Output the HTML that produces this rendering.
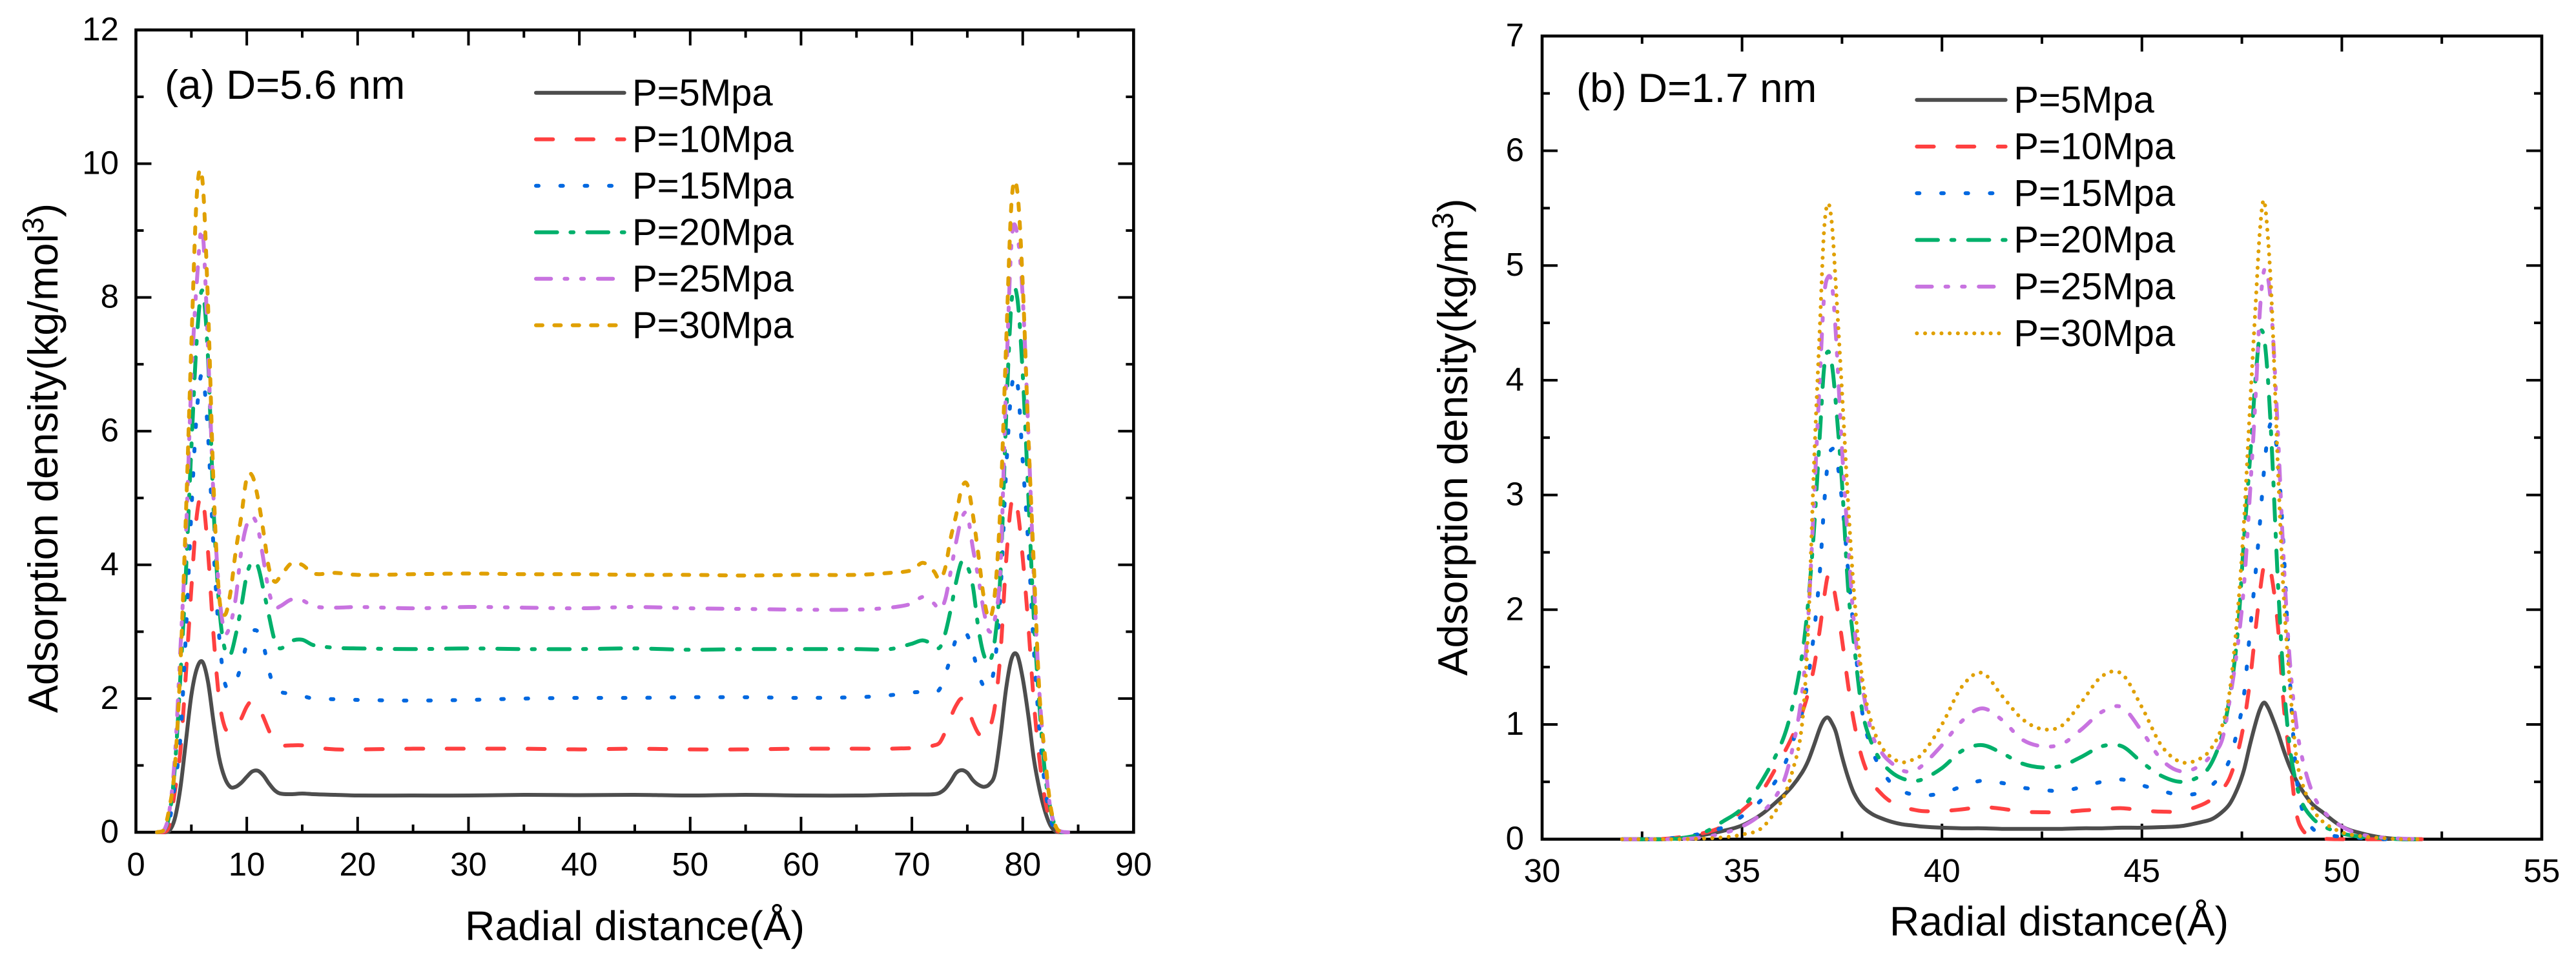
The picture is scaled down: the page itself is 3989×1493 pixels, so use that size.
<!DOCTYPE html>
<html lang="en">
<head>
<meta charset="utf-8">
<title>Adsorption density profiles</title>
<style>
html,body{margin:0;padding:0;background:#fff;}
svg{display:block;}
text{font-family:"Liberation Sans",Arial,sans-serif;fill:#000;}
</style>
</head>
<body>
<svg id="figure" xmlns="http://www.w3.org/2000/svg" width="3989" height="1493" viewBox="0 0 3989 1493">
  <rect x="0" y="0" width="3989" height="1493" fill="#ffffff"/>
  <g id="panel-a">
    <text x="255" y="153" font-size="63.5">(a) D=5.6 nm</text>
    <text x="983" y="1456" font-size="64.4" text-anchor="middle">Radial distance(Å)</text>
    <text transform="translate(89,709.5) rotate(-90)" font-size="64.5" text-anchor="middle">Adsorption density(kg/mol<tspan font-size="46" dy="-22">3</tspan><tspan dy="22">)</tspan></text>
  </g>
  <g id="panel-b">
    <text x="2441" y="158" font-size="63.5">(b) D=1.7 nm</text>
    <text x="3188.5" y="1449" font-size="64.3" text-anchor="middle">Radial distance(Å)</text>
    <text transform="translate(2272,677) rotate(-90)" font-size="64.5" text-anchor="middle">Adsorption density(kg/m<tspan font-size="46" dy="-22">3</tspan><tspan dy="22">)</tspan></text>
  </g>
</svg>
<script>
// ---- shared labels ----
const pressureLabels = ['P=5Mpa','P=10Mpa','P=15Mpa','P=20Mpa','P=25Mpa','P=30Mpa'];

// ---- panel (a) data ----
const aXTicks = [0,10,20,30,40,50,60,70,80,90];
const aXMinorTicks = [5,15,25,35,45,55,65,75,85];
const aYTicks = [0,2,4,6,8,10,12];
const aYMinorTicks = [1,3,5,7,9,11];
const aRadial = [1.9,2.5,3,3.5,4,4.5,5,5.5,6,6.5,7,7.5,8,8.5,9,9.5,10,10.5,11,11.5,12,12.5,13,14,15,16,18,20,25,30,35,40,45,50,55,60,65,68,70,71,72,72.5,73,73.5,74,74.5,75,75.5,76,76.5,77,77.5,78,78.5,79,79.5,80,80.5,81,81.5,82,82.5,83,83.5,84.1];
const aP5 = [0,0,.02,.2,.65,1.35,2.05,2.45,2.55,2.25,1.65,1.12,.82,.68,.68,.74,.83,.91,.92,.85,.73,.63,.58,.57,.58,.57,.56,.55,.55,.55,.56,.555,.56,.55,.56,.55,.55,.56,.565,.565,.57,.59,.65,.76,.89,.93,.89,.78,.71,.68,.72,.88,1.45,2.15,2.6,2.65,2.3,1.75,1.1,.65,.32,.1,.01,0,0];
const aP10 = [0,0,.1,.6,1.2,2.35,3.65,4.75,5.0,4.2,2.95,2.0,1.58,1.5,1.55,1.7,1.88,1.97,1.9,1.72,1.52,1.35,1.3,1.3,1.3,1.27,1.24,1.24,1.25,1.25,1.25,1.24,1.25,1.24,1.24,1.25,1.25,1.25,1.26,1.27,1.3,1.34,1.5,1.72,1.9,2.0,1.88,1.65,1.48,1.42,1.55,1.9,2.7,4.05,4.95,4.85,4.1,3.1,1.95,1.1,.5,.15,.03,0,0];
const aP15 = [0,.02,.15,.7,1.4,2.95,4.8,6.3,6.85,5.95,4.25,2.95,2.25,2.15,2.25,2.5,2.82,3.0,3.0,2.8,2.42,2.15,2.1,2.07,2.04,2.0,1.99,1.98,1.97,1.98,2.0,2.01,2.01,2.02,2.02,2.01,2.02,2.05,2.09,2.1,2.09,2.14,2.35,2.62,2.9,3.02,2.95,2.7,2.38,2.18,2.18,2.55,3.6,5.4,6.65,6.75,5.55,4.3,2.75,1.55,.7,.2,.04,0,0];
const aP20 = [0,.02,.25,.95,2.3,3.85,5.75,7.4,8.1,7.1,4.85,3.4,2.75,2.65,2.95,3.37,3.85,4.05,3.98,3.63,3.24,2.88,2.75,2.86,2.88,2.8,2.76,2.75,2.74,2.75,2.74,2.74,2.75,2.73,2.74,2.74,2.74,2.74,2.82,2.87,2.8,2.76,2.97,3.33,3.75,4.05,3.98,3.68,3.05,2.65,2.55,2.9,3.9,6.2,7.95,8.0,6.85,5.05,3.2,1.9,.9,.35,.06,0,0];
const aP25 = [0,.02,.3,1.1,2.7,4.4,6.75,8.25,9.0,7.25,5.0,3.6,3.0,3.1,3.5,4.2,4.6,4.72,4.55,4.08,3.6,3.37,3.38,3.48,3.47,3.38,3.36,3.37,3.35,3.37,3.36,3.35,3.37,3.35,3.34,3.33,3.33,3.36,3.42,3.52,3.42,3.33,3.48,3.9,4.35,4.7,4.75,4.25,3.8,3.3,3.0,3.2,4.0,6.7,8.85,8.95,8.0,6.0,3.8,2.1,1.1,.35,.08,.01,0];
const aP30 = [0,.03,.35,.95,2.45,4.7,7.3,9.55,9.75,7.9,5.2,3.55,3.25,3.56,4.2,4.72,5.3,5.33,5.0,4.5,3.95,3.75,3.82,4.02,4.0,3.87,3.88,3.85,3.86,3.87,3.86,3.86,3.85,3.85,3.84,3.85,3.85,3.88,3.92,4.03,3.9,3.78,3.95,4.4,4.75,5.15,5.2,4.75,4.15,3.5,3.2,3.6,4.95,7.3,9.45,9.6,8.2,5.95,4.0,2.1,1.15,.4,.08,.01,0];

// ---- panel (b) data ----
const bXTicks = [30,35,40,45,50,55];
const bXMinorTicks = [32.5,37.5,42.5,47.5,52.5];
const bYTicks = [0,1,2,3,4,5,6,7];
const bYMinorTicks = [0.5,1.5,2.5,3.5,4.5,5.5,6.5];
const bRadial = [32,33,33.5,34,34.5,35,35.5,36,36.25,36.5,36.65,36.8,36.95,37.05,37.15,37.25,37.35,37.5,37.65,37.8,38,38.25,38.5,38.75,39,39.25,39.5,40,40.5,41,41.5,42,42.5,43,43.5,44,44.5,45,45.5,46,46.5,46.75,47,47.2,47.4,47.55,47.7,47.85,47.95,48.05,48.15,48.25,48.4,48.55,48.7,48.85,49,49.25,49.5,50,50.5,51,51.5,52];
const bP5 = [0,0,.01,.035,.07,.12,.22,.37,.46,.58,.68,.82,.97,1.04,1.06,1.01,.93,.72,.54,.4,.29,.22,.18,.15,.13,.12,.11,.1,.095,.095,.09,.09,.09,.09,.095,.095,.1,.1,.105,.115,.15,.175,.235,.31,.45,.6,.82,1.02,1.13,1.19,1.15,1.07,.93,.77,.63,.52,.43,.31,.24,.11,.05,.015,0,0];
const bP10 = [0,.002,.02,.05,.11,.25,.42,.72,.89,1.1,1.27,1.5,1.84,2.1,2.3,2.26,2.08,1.74,1.35,1.02,.71,.5,.39,.32,.28,.26,.245,.245,.26,.28,.265,.24,.235,.235,.25,.26,.27,.25,.24,.245,.3,.35,.43,.54,.76,1.01,1.37,1.85,2.15,2.38,2.4,2.28,1.86,1.15,.7,.25,.09,.02,.005,0,0,0,0,0];
const bP15 = [0,.002,.02,.05,.1,.2,.35,.6,.83,1.1,1.4,1.8,2.35,2.9,3.3,3.4,3.35,2.95,2.35,1.8,1.12,.78,.6,.48,.42,.39,.38,.4,.46,.51,.49,.45,.43,.42,.455,.5,.52,.47,.42,.385,.41,.47,.57,.7,.97,1.25,1.8,2.35,2.75,3.2,3.52,3.62,3.32,2.5,1.4,.6,.27,.1,.05,.02,.01,0,0,0];
const bP20 = [0,0,.01,.05,.15,.27,.51,.85,1.14,1.6,2.05,2.7,3.55,4.1,4.25,4.13,3.78,3.1,2.2,1.7,1.13,.83,.67,.58,.53,.51,.52,.62,.77,.82,.75,.66,.625,.64,.72,.81,.81,.67,.55,.5,.56,.67,.9,1.25,1.82,2.6,3.3,4.05,4.4,4.38,4.02,3.4,2.25,1.35,.8,.5,.32,.19,.12,.05,.02,.01,0,0];
const bP25 = [0,0,.002,.015,.05,.11,.23,.47,.77,1.27,1.9,2.95,4.05,4.72,4.9,4.83,4.38,3.4,2.6,1.88,1.35,.92,.75,.66,.6,.59,.64,.82,1.03,1.14,1.04,.87,.81,.83,.96,1.11,1.15,.94,.69,.59,.65,.74,.86,1.22,1.7,2.2,3.0,3.9,4.6,4.95,4.9,4.55,3.55,2.4,1.55,1.03,.72,.42,.26,.11,.04,.015,.005,0];
const bP30 = [0,0,0,.005,.015,.04,.1,.34,.58,1.0,1.8,3.27,4.5,5.3,5.54,5.35,4.8,3.9,2.95,2.15,1.42,1.0,.8,.71,.67,.69,.74,1.0,1.33,1.45,1.25,1.05,.96,.99,1.2,1.42,1.44,1.15,.81,.67,.71,.8,.98,1.3,2.0,2.75,3.75,4.7,5.3,5.57,5.25,4.65,3.25,2.1,1.35,.75,.5,.28,.16,.06,.025,.01,0,0];

// ---- drawing ----
const SVG_NS = 'http://www.w3.org/2000/svg';
const AXIS_COLOR = '#000000';
const seriesColors = ['#4d4d4d','#ff4040','#0068e0','#00b06b','#c873e0','#e0a000'];
const dashSolid = 'none';
const dashRed = '26.3 36.4';
const dashBlue = '4 33.7';
const dashGreen = '32.7 20.7 4.7 21.3';
const dashPurple = '23.3 21 4.3 21.3 4.3 21.7';
const dashOrangeShort = '10 18.4';
const dashOrangeDot = '0.1 12.6';

function linearScale(d0, d1, r0, r1) {
  return function (v) { return r0 + (v - d0) * (r1 - r0) / (d1 - d0); };
}

function make(tag, parent, attrs) {
  const node = document.createElementNS(SVG_NS, tag);
  Object.keys(attrs).forEach(function (k) { node.setAttribute(k, attrs[k]); });
  parent.appendChild(node);
  return node;
}

function smoothPath(xs, ys, xFn, yFn, floorPx) {
  const px = xs.map(xFn);
  const py = ys.map(yFn);
  const n = px.length;
  const slope = [];
  for (let i = 0; i < n; i++) {
    const a = Math.max(i - 1, 0);
    const b = Math.min(i + 1, n - 1);
    slope.push((py[b] - py[a]) / (px[b] - px[a]));
  }
  let d = 'M' + px[0].toFixed(2) + ' ' + py[0].toFixed(2);
  for (let i = 0; i < n - 1; i++) {
    const h = (px[i + 1] - px[i]) / 3;
    const c1y = Math.min(py[i] + slope[i] * h, floorPx);
    const c2y = Math.min(py[i + 1] - slope[i + 1] * h, floorPx);
    d += 'C' + (px[i] + h).toFixed(2) + ' ' + c1y.toFixed(2) + ' ' +
         (px[i + 1] - h).toFixed(2) + ' ' + c2y.toFixed(2) + ' ' +
         px[i + 1].toFixed(2) + ' ' + py[i + 1].toFixed(2);
  }
  return d;
}

function drawPanel(cfg) {
  const root = document.getElementById(cfg.id);
  const x = linearScale(cfg.xDomain[0], cfg.xDomain[1], cfg.left, cfg.right);
  const y = linearScale(cfg.yDomain[0], cfg.yDomain[1], cfg.bottom, cfg.top);

  const axes = make('g', root, {});
  
  

  const frame = make('rect', axes, {
    x: cfg.left, y: cfg.top, width: cfg.right - cfg.left, height: cfg.bottom - cfg.top,
    fill: 'none', stroke: AXIS_COLOR, 'stroke-width': 4.6
  });
  
  

  function xTick(v, len) {
    const p = x(v);
    const tickB = make('line', axes, { x1: p, x2: p, y1: cfg.bottom, y2: cfg.bottom - len, stroke: AXIS_COLOR, 'stroke-width': 4 });
    
    
    const tickT = make('line', axes, { x1: p, x2: p, y1: cfg.top, y2: cfg.top + len, stroke: AXIS_COLOR, 'stroke-width': 4 });
    
    
  }
  function yTick(v, len) {
    const p = y(v);
    const tickL = make('line', axes, { x1: cfg.left, x2: cfg.left + len, y1: p, y2: p, stroke: AXIS_COLOR, 'stroke-width': 4 });
    
    
    const tickR = make('line', axes, { x1: cfg.right, x2: cfg.right - len, y1: p, y2: p, stroke: AXIS_COLOR, 'stroke-width': 4 });
    
    
  }
  cfg.xMinor.forEach(function (v) { xTick(v, 12); });
  cfg.yMinor.forEach(function (v) { yTick(v, 12); });
  cfg.xMajor.forEach(function (v) {
    xTick(v, 24);
    const label = make('text', axes, { x: x(v), y: cfg.xLabelY, 'font-size': 51, 'text-anchor': 'middle' });
    
    
    label.textContent = String(v);
  });
  cfg.yMajor.forEach(function (v) {
    yTick(v, 24);
    const label = make('text', axes, { x: cfg.yLabelX, y: y(v) + 16, 'font-size': 51, 'text-anchor': 'end' });
    
    
    label.textContent = String(v);
  });

  cfg.series.forEach(function (values, i) {
    const curve = make('path', root, {
      d: smoothPath(cfg.radial, values, x, y, cfg.bottom),
      fill: 'none', stroke: seriesColors[i], 'stroke-width': 6,
      'stroke-linecap': 'round', 'stroke-linejoin': 'round'
    });
    if (cfg.dashes[i] !== dashSolid) { curve.setAttribute('stroke-dasharray', cfg.dashes[i]); }
    
    
  });

  const legend = make('g', root, {});
  
  
  pressureLabels.forEach(function (labelText, i) {
    const baseline = cfg.legendBase + i * cfg.legendStep;
    const swatch = make('line', legend, {
      x1: cfg.legendX0, x2: cfg.legendX1, y1: baseline - 19.6, y2: baseline - 19.6,
      stroke: seriesColors[i], 'stroke-width': 6, 'stroke-linecap': 'round'
    });
    if (cfg.dashes[i] !== dashSolid) { swatch.setAttribute('stroke-dasharray', cfg.dashes[i]); }
    
    
    const label = make('text', legend, { x: cfg.legendTextX, y: baseline, 'font-size': 58 });
    
    
    label.textContent = labelText;
  });
}

drawPanel({
  id: 'panel-a',
  left: 210.5, right: 1755.4, top: 46.4, bottom: 1289,
  xDomain: [0, 90], yDomain: [0, 12],
  xMajor: aXTicks, xMinor: aXMinorTicks, yMajor: aYTicks, yMinor: aYMinorTicks,
  xLabelY: 1356, yLabelX: 184,
  radial: aRadial,
  series: [aP5, aP10, aP15, aP20, aP25, aP30],
  dashes: [dashSolid, dashRed, dashBlue, dashGreen, dashPurple, dashOrangeShort],
  legendX0: 830, legendX1: 966.7, legendTextX: 979, legendBase: 163.3, legendStep: 72
});

drawPanel({
  id: 'panel-b',
  left: 2388, right: 3936, top: 55.8, bottom: 1299.7,
  xDomain: [30, 55], yDomain: [0, 7],
  xMajor: bXTicks, xMinor: bXMinorTicks, yMajor: bYTicks, yMinor: bYMinorTicks,
  xLabelY: 1366, yLabelX: 2360,
  radial: bRadial,
  series: [bP5, bP10, bP15, bP20, bP25, bP30],
  dashes: [dashSolid, dashRed, dashBlue, dashGreen, dashPurple, dashOrangeDot],
  legendX0: 2968.3, legendX1: 3105.7, legendTextX: 3118.3, legendBase: 174.3, legendStep: 72.3
});
</script>
</body>
</html>
